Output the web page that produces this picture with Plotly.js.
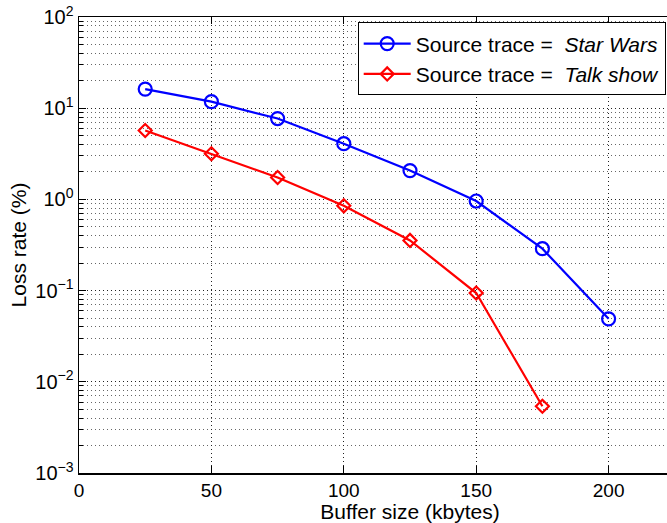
<!DOCTYPE html>
<html>
<head>
<meta charset="utf-8">
<script src="https://cdn.plot.ly/plotly-3.0.1.min.js"></script>
<style>
html,body{margin:0;padding:0;overflow:hidden;background:#fff;width:667px;height:523px;}
#chart{width:762px;height:523px;}
</style>
</head>
<body>
<div id="chart"></div>
<script>
// Data
const bufferStarWars = [25, 50, 75, 100, 125, 150, 175, 200];
const lossStarWars   = [16.2, 11.8, 7.7, 4.08, 2.07, 0.96, 0.288, 0.049];
const bufferTalkShow = [25, 50, 75, 100, 125, 150, 175];
const lossTalkShow   = [5.7, 3.17, 1.74, 0.85, 0.355, 0.094, 0.0054];

const yTickVals = [1e-3, 1e-2, 1e-1, 1e0, 1e1, 1e2];
const yTickText = ['10<sup>\u22123</sup>', '10<sup>\u22122</sup>', '10<sup>\u22121</sup>', '10<sup>0</sup>', '10<sup>1</sup>', '10<sup>2</sup>'];
const xTickVals = [0, 50, 100, 150, 200];
const xTickText = ['0', '50', '100', '150', '200'];

const yMinorVals = [];
for (let e = -3; e <= 1; e++) {
  for (let m = 2; m <= 9; m++) yMinorVals.push(m * Math.pow(10, e));
}

const fam = 'Liberation Sans, Arial, Helvetica, sans-serif';
const tickFont = {family: fam, size: 20, color: '#000'};
const xTickFont = {family: fam, size: 19, color: '#000'};
const bigFont = {family: fam, size: 21, color: '#000'};

const traces = [
  {
    x: bufferStarWars, y: lossStarWars, type: 'scatter', mode: 'lines+markers',
    name: 'Source trace = &nbsp;<i>Star Wars</i>',
    line: {color: '#0000FF', width: 2.2},
    marker: {symbol: 'circle-open', size: 13, color: '#0000FF', line: {width: 2.2, color: '#0000FF'}}
  },
  {
    x: bufferTalkShow, y: lossTalkShow, type: 'scatter', mode: 'lines+markers',
    name: 'Source trace = &nbsp;<i>Talk show</i>',
    line: {color: '#FF0000', width: 2.2},
    marker: {symbol: 'diamond-open', size: 10, color: '#FF0000', line: {width: 2.2, color: '#FF0000'}}
  }
];

const layout = {
  width: 762, height: 523,
  margin: {l: 79, r: 21, t: 17, b: 50},
  paper_bgcolor: '#fff', plot_bgcolor: '#fff',
  font: tickFont,
  showlegend: true,
  legend: {
    x: 0.421, y: 0.988, xanchor: 'left', yanchor: 'top',
    bgcolor: '#fff', bordercolor: '#000', borderwidth: 1,
    font: bigFont, itemwidth: 47, tracegroupgap: 0
  },
  xaxis: {
    range: [0, 250], tickmode: 'array', tickvals: xTickVals, ticktext: xTickText,
    showline: true, linecolor: '#000', linewidth: 1.5, mirror: 'ticks',
    ticks: 'inside', ticklen: 7, tickwidth: 1, tickcolor: '#000',
    showgrid: true, gridcolor: '#222', gridwidth: 1, griddash: '1px,3px',
    zeroline: false,
    tickfont: xTickFont,
    title: {text: 'Buffer size (kbytes)', font: bigFont, standoff: 3}
  },
  yaxis: {
    type: 'log', range: [-3, 2], tickmode: 'array', tickvals: yTickVals, ticktext: yTickText,
    showline: true, linecolor: '#000', linewidth: 1.5, mirror: 'ticks',
    ticks: 'inside', ticklen: 7, tickwidth: 1, tickcolor: '#000',
    showgrid: true, gridcolor: '#222', gridwidth: 1, griddash: '1px,3px',
    zeroline: false,
    tickfont: tickFont,
    minor: {
      tickmode: 'array', tickvals: yMinorVals,
      ticks: 'inside', ticklen: 4, tickcolor: '#000', tickwidth: 1,
      showgrid: true, gridcolor: '#666', gridwidth: 1, griddash: '1px,3px'
    },
    title: {text: 'Loss rate (%)', font: bigFont, standoff: 3}
  }
};

Plotly.newPlot('chart', traces, layout, {staticPlot: true, displayModeBar: false});
</script>
</body>
</html>
